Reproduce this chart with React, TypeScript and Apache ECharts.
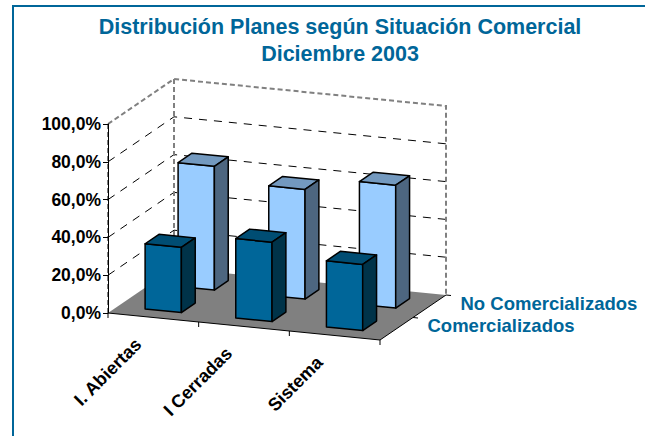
import React, { useEffect, useRef } from "react";
import * as echarts from "echarts";

const categories = ["I. Abiertas", "I Cerradas", "Sistema"];
const comercializados = [34.5, 42, 35];
const noComercializados = [65.5, 58, 65];
const seriesNames = ["Comercializados", "No Comercializados"];
const yTicks = [20, 40, 60, 80];

const DEEP_X = 66;
const DEEP_Y = 45;
const SHEAR = 0.0993;
const FONT = "'Liberation Sans', Arial, sans-serif";
const BLUE = "#006699";

function projector(params: any, api: any) {
  const x0 = params.coordSys.x;
  const band = api.size([1, 0])[0];
  return (catPos: number, depth: number, value: number) => {
    const p = api.coord([0, value]);
    const x = p[0] + catPos * band;
    return [x + DEEP_X * depth, p[1] + (x - x0) * SHEAR - DEEP_Y * depth];
  };
}

const line = (points: number[][], stroke: string, lineWidth: number, lineDash?: number[]) => ({
  type: "polyline",
  shape: { points },
  silent: true,
  style: { fill: "none", stroke, lineWidth, lineDash },
});
const poly = (points: number[][], fill: string) => ({
  type: "polygon",
  shape: { points },
  silent: true,
  style: { fill, stroke: "#000", lineWidth: 1.5, lineJoin: "round" },
});

function barRenderer(d0: number, d1: number, front: string, top: string, side: string) {
  return (params: any, api: any) => {
    const P = projector(params, api);
    const c = api.value(0);
    const v = api.value(1);
    const a = c - 0.2;
    const b = c + 0.2;
    return {
      type: "group",
      children: [
        poly([P(a, d0, 0), P(b, d0, 0), P(b, d0, v), P(a, d0, v)], front),
        poly([P(a, d0, v), P(b, d0, v), P(b, d1, v), P(a, d1, v)], top),
        poly([P(b, d0, 0), P(b, d1, 0), P(b, d1, v), P(b, d0, v)], side),
      ],
    };
  };
}

function wallsRenderer(params: any, api: any) {
  const P = projector(params, api);
  const L = -0.5;
  const R = 2.5;
  const kids: any[] = [];
  for (const t of yTicks) {
    kids.push(line([P(L, 0, t), P(L, 1, t), P(R, 1, t)], "#000", 1, [8, 7]));
  }
  const gray = "#808080";
  kids.push(line([P(L, 0, 100), P(L, 1, 100), P(R, 1, 100), P(R, 1, 0)], gray, 2, [5, 3]));
  kids.push(line([P(L, 1, 100), P(L, 1, 0)], gray, 2, [5, 3]));
  kids.push(line([P(L, 0, 100), P(L, 0, 0)], gray, 2, [5, 3]));
  kids.push({
    type: "polygon",
    shape: { points: [P(L, 0, 0), P(R, 0, 0), P(R, 1, 0), P(L, 1, 0)] },
    silent: true,
    style: { fill: gray },
  });
  kids.push(line([P(L, 0, 0), P(R, 0, 0), P(R, 1, 0)], "#000", 1));
  for (let i = 0; i <= categories.length; i++) {
    const p = P(L + i, 0, 0);
    kids.push(line([p, [p[0], p[1] + 5]], "#000", 1));
  }
  for (const d of [0.5, 1]) {
    const p = P(R, d, 0);
    kids.push(line([p, [p[0] + 5, p[1] + 0.5]], "#000", 1));
  }
  return { type: "group", children: kids };
}

function labelsRenderer(params: any, api: any) {
  const P = projector(params, api);
  const kids: any[] = categories.map((name, i) => {
    const p = P(i, 0, 0);
    return {
      type: "text",
      x: p[0] - 15,
      y: p[1] + 24,
      rotation: Math.PI / 4,
      silent: true,
      style: {
        text: name,
        align: "right",
        verticalAlign: "middle",
        fill: "#000",
        font: `bold 18px ${FONT}`,
      },
    };
  });
  seriesNames.forEach((name, i) => {
    const p = P(2.5, 0.25 + i * 0.5, 0);
    kids.push({
      type: "text",
      x: p[0] + 31,
      y: p[1] - 3,
      silent: true,
      style: {
        text: name,
        align: "left",
        verticalAlign: "middle",
        fill: BLUE,
        font: `bold 18.5px ${FONT}`,
      },
    });
  });
  return { type: "group", children: kids };
}

export default function App() {
  const ref = useRef<HTMLDivElement>(null);
  useEffect(() => {
    document.body.style.margin = "0";
    const chart = echarts.init(ref.current!, undefined, { renderer: "svg" });
    chart.setOption({
      animation: false,
      backgroundColor: "#fff",
      title: {
        text: "Distribución Planes según Situación Comercial\nDiciembre 2003",
        left: 335,
        top: 8,
        textAlign: "center",
        textStyle: {
          color: BLUE,
          fontFamily: FONT,
          fontWeight: "bold",
          fontSize: 21.5,
          lineHeight: 27,
        },
      },
      graphic: [
        {
          type: "rect",
          shape: { x: 13, y: 6, width: 700, height: 500 },
          silent: true,
          style: { fill: "none", stroke: BLUE, lineWidth: 2 },
        },
      ],
      grid: { left: 108, top: 124, width: 272, height: 189 },
      xAxis: {
        type: "category",
        data: categories,
        axisLine: { show: false },
        axisTick: { show: false },
        axisLabel: { show: false },
      },
      yAxis: {
        type: "value",
        min: 0,
        max: 100,
        interval: 20,
        z: 5,
        splitLine: { show: false },
        axisLine: { show: true, lineStyle: { color: "#000", width: 1 } },
        axisTick: { show: true, length: 5, lineStyle: { color: "#000" } },
        axisLabel: {
          margin: 7,
          color: "#000",
          fontFamily: FONT,
          fontWeight: "bold",
          fontSize: 17.5,
          formatter: (v: number) => v.toFixed(1).replace(".", ",") + "%",
        },
      },
      series: [
        { type: "custom", z: 1, silent: true, renderItem: wallsRenderer, data: [[0, 0]] },
        {
          type: "custom",
          name: seriesNames[1],
          z: 2,
          silent: true,
          renderItem: barRenderer(0.65, 0.86, "#99ccff", "#7399bf", "#4d6680"),
          data: noComercializados.map((v, i) => [i, v]),
        },
        {
          type: "custom",
          name: seriesNames[0],
          z: 3,
          silent: true,
          renderItem: barRenderer(0.15, 0.36, "#006699", "#004d73", "#003349"),
          data: comercializados.map((v, i) => [i, v]),
        },
        { type: "custom", z: 4, silent: true, renderItem: labelsRenderer, data: [[0, 0]] },
      ],
    });
    return () => chart.dispose();
  }, []);
  return <div ref={ref} style={{ width: 645, height: 436 }} />;
}
